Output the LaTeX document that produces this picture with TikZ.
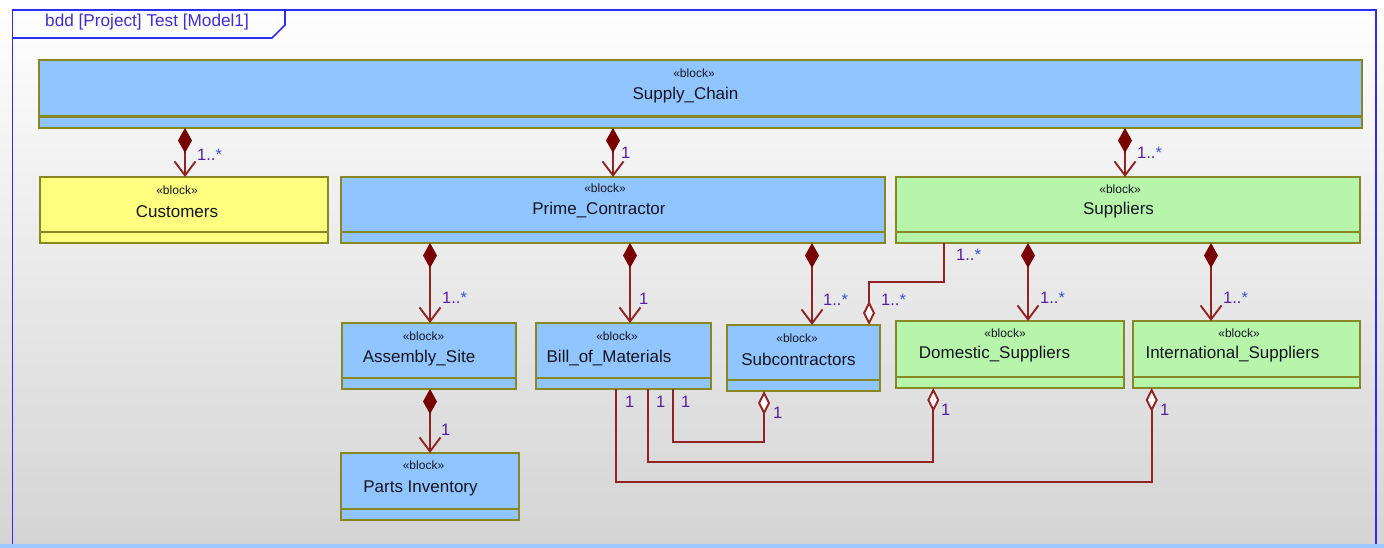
\documentclass[tikz,border=0pt]{standalone}
\usepackage{fontspec}
\setmainfont{Liberation Sans}
\usetikzlibrary{arrows.meta}

\definecolor{frameblue}{RGB}{45,45,250}
\definecolor{titleblue}{RGB}{65,45,215}
\definecolor{blockblue}{RGB}{145,197,255}
\definecolor{blockgreen}{RGB}{183,245,170}
\definecolor{blockyellow}{RGB}{255,255,128}
\definecolor{borderolive}{RGB}{135,135,35}
\definecolor{linkred}{RGB}{145,35,35}
\definecolor{diamondred}{RGB}{120,0,0}
\definecolor{multpurple}{RGB}{85,30,160}
\definecolor{multblue}{RGB}{60,80,215}
\definecolor{bggray}{RGB}{212,212,212}
\definecolor{stripblue}{RGB}{155,200,255}
\definecolor{inktext}{RGB}{20,20,35}

\tikzset{
  blockbox/.style={draw=borderolive, line width=1.8pt, inner sep=0pt, outer sep=0pt, anchor=north west},
  divider/.style={draw=borderolive, line width=1.8pt},
  stereo/.style={font=\fontsize{12}{13}\selectfont, text=inktext, inner sep=0pt},
  bname/.style={font=\fontsize{17}{19}\selectfont, text=inktext, inner sep=0pt},
  mult/.style={font=\fontsize{16.5}{18}\selectfont, inner sep=0pt, anchor=west},
  frameline/.style={draw=frameblue, line width=1.6pt},
  comp/.style={draw=linkred, line width=1.9pt,
    {Diamond[length=25pt,width=14pt,fill=diamondred,color=diamondred]}-{Straight Barb[length=14pt,width=21pt]}},
  agg/.style={draw=linkred, line width=1.9pt, -{Diamond[length=24pt,width=12pt,fill=white]}}
}

% block box with its lower compartment line
\newcommand{\sysblock}[6]{%
  \node[blockbox, fill=#6, minimum width=#4pt, minimum height=#5pt] (#1) at (#2,#3) {};
  \draw[divider] ([yshift=11pt]#1.south west) -- ([yshift=11pt]#1.south east);
}
\newcommand{\mlt}[1]{{\color{multpurple}1..}{\color{multblue}*}}

\begin{document}
\begin{tikzpicture}[x=1pt,y=-1pt]
\useasboundingbox (0,0) rectangle (1384,548);
\shade[top color=white, bottom color=bggray] (0,0) rectangle (1384,548);

% diagram frame and its name tab
\draw[frameline] (12.5,10) rectangle (1376,552);
\draw[frameline] (12.5,38) -- (272,38) -- (285,25) -- (285,10);
\node[anchor=west, inner sep=0pt, font=\fontsize{17.2}{19}\selectfont, text=titleblue] (title) at (45,22.5) {bdd [Project] Test [Model1]};
\fill[stripblue] (0,543.5) rectangle (1384,548);

% blocks
\sysblock{sc}{39}{60}{1323}{68}{blockblue}
\draw[divider] ([yshift=12pt]sc.south west) -- ([yshift=12pt]sc.south east);
\node[stereo] (sc-st) at (694,73) {«block»};
\node[bname] (sc-nm) at (685.5,95) {Supply\_Chain};

\sysblock{cu}{40}{177}{288}{66}{blockyellow}
\node[stereo] (cu-st) at (177,190) {«block»};
\node[bname] (cu-nm) at (177,212) {Customers};

\sysblock{pc}{341}{177}{544}{66}{blockblue}
\node[stereo] (pc-st) at (605,188) {«block»};
\node[bname] (pc-nm) at (599,210) {Prime\_Contractor};

\sysblock{su}{896}{177}{464}{66}{blockgreen}
\node[stereo] (su-st) at (1120,189) {«block»};
\node[bname] (su-nm) at (1118.5,210) {Suppliers};

\sysblock{as}{342}{323}{174}{66}{blockblue}
\node[stereo] (as-st) at (423.5,336) {«block»};
\node[bname] (as-nm) at (419,358) {Assembly\_Site};

\sysblock{bom}{536}{323}{175}{66}{blockblue}
\node[stereo] (bom-st) at (617,336) {«block»};
\node[bname] (bom-nm) at (609,358) {Bill\_of\_Materials};

\sysblock{subc}{727}{325}{153}{66}{blockblue}
\node[stereo] (subc-st) at (797,338) {«block»};
\node[bname] (subc-nm) at (798.5,359) {Subcontractors};

\sysblock{dom}{896}{321}{228}{67}{blockgreen}
\node[stereo] (dom-st) at (1005,333) {«block»};
\node[bname] (dom-nm) at (994.5,354) {Domestic\_Suppliers};

\sysblock{intl}{1133}{321}{227}{67}{blockgreen}
\node[stereo] (intl-st) at (1239,333) {«block»};
\node[bname] (intl-nm) at (1232.5,354) {International\_Suppliers};

\sysblock{pi}{341}{453}{178}{67}{blockblue}
\node[stereo] (pi-st) at (423.5,465) {«block»};
\node[bname] (pi-nm) at (420.5,488) {Parts Inventory};

% composition links
\draw[comp] ([xshift=146pt]sc.south west) -- ([xshift=145pt]cu.north west);
\draw[comp] ([xshift=574pt]sc.south west) -- ([xshift=272pt]pc.north west);
\draw[comp] ([xshift=1086pt]sc.south west) -- ([xshift=229pt]su.north west);
\draw[comp] ([xshift=89pt]pc.south west) -- ([xshift=88pt]as.north west);
\draw[comp] ([xshift=289pt]pc.south west) -- ([xshift=94pt]bom.north west);
\draw[comp] ([xshift=471pt]pc.south west) -- ([xshift=85pt]subc.north west);
\draw[comp] ([xshift=88pt]as.south west) -- ([xshift=89pt]pi.north west);
\draw[comp] ([xshift=132pt]su.south west) -- ([xshift=132pt]dom.north west);
\draw[comp] ([xshift=315pt]su.south west) -- ([xshift=78pt]intl.north west);

% shared aggregation links
\draw[agg] ([xshift=48pt]su.south west) -- ++(0,38.7) -| ([xshift=142pt]subc.north west);
\draw[agg] ([xshift=137pt]bom.south west) -- ++(0,52.7) -| ([xshift=37pt]subc.south west);
\draw[agg] ([xshift=112pt]bom.south west) -- ++(0,72.7) -| ([xshift=37.3pt]dom.south west);
\draw[agg] ([xshift=80.4pt]bom.south west) -- ++(0,92.7) -| ([xshift=18.7pt]intl.south west);

% multiplicities
\node[mult] (m1) at (197,155) {\mlt{}};
\node[mult, text=multpurple] (m2) at (621,153) {1};
\node[mult] (m3) at (1137,153) {\mlt{}};
\node[mult] (m4) at (442,298) {\mlt{}};
\node[mult, text=multpurple] (m5) at (639,299) {1};
\node[mult] (m6) at (823,300) {\mlt{}};
\node[mult, text=multpurple] (m7) at (441,430) {1};
\node[mult] (m8) at (1040,298) {\mlt{}};
\node[mult] (m9) at (1223,298) {\mlt{}};
\node[mult] (m10) at (956,255) {\mlt{}};
\node[mult] (m11) at (881,300) {\mlt{}};
\node[mult, text=multpurple] (m12) at (625,402) {1};
\node[mult, text=multpurple] (m13) at (656,402) {1};
\node[mult, text=multpurple] (m14) at (681,402) {1};
\node[mult, text=multpurple] (m15) at (773,413) {1};
\node[mult, text=multpurple] (m16) at (941,410) {1};
\node[mult, text=multpurple] (m17) at (1160,410) {1};
\end{tikzpicture}
\end{document}
